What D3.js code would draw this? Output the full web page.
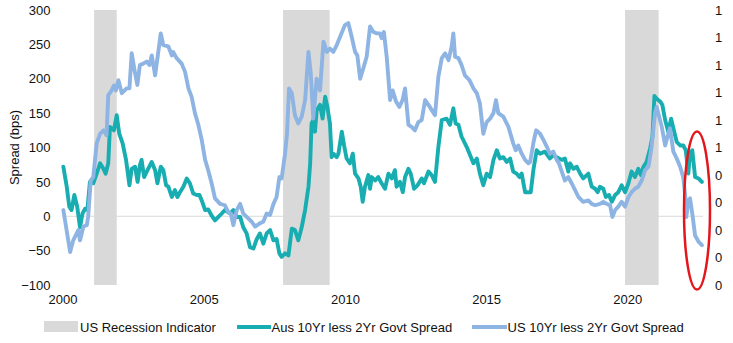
<!DOCTYPE html>
<html>
<head>
<meta charset="utf-8">
<script src="https://cdn.jsdelivr.net/npm/d3@7"></script>
<style>
  html, body { margin: 0; padding: 0; background: #fff; }
  svg { display: block; font-family: "Liberation Sans", Arial, sans-serif; }
</style>
</head>
<body>
<svg id="chart" width="733" height="343"></svg>
<script>
// Axis ticks
const yearTicks = [2000, 2005, 2010, 2015, 2020];
const yearLabels = ["2000", "2005", "2010", "2015", "2020"];
const spreadTicks = [-100, -50, 0, 50, 100, 150, 200, 250, 300];
const indicatorTicks = [0, 0.1, 0.2, 0.3, 0.4, 0.5, 0.6, 0.7, 0.8, 0.9, 1];

// US recession periods (decimal years) on the secondary 0-1 axis
const recessionStart = [2001.12, 2007.81, 2019.92];
const recessionEnd   = [2001.92, 2009.46, 2021.11];
const recessionValue = [1, 1, 1];

// Aus 10Yr less 2Yr govt spread (bps)
const ausTime = [
  2000.03, 2000.15, 2000.24, 2000.32, 2000.42, 2000.52, 2000.62, 2000.71, 2000.80, 2000.88,
  2000.97, 2001.09, 2001.21, 2001.33, 2001.45, 2001.53, 2001.62, 2001.68, 2001.82, 2001.92,
  2002.01, 2002.13, 2002.25, 2002.37, 2002.45, 2002.57, 2002.66, 2002.74, 2002.80, 2002.89,
  2003.01, 2003.16, 2003.28, 2003.36, 2003.48, 2003.57, 2003.67, 2003.75, 2003.87, 2003.98,
  2004.07, 2004.16, 2004.28, 2004.40, 2004.51, 2004.63, 2004.75, 2004.85, 2004.93, 2005.05,
  2005.16, 2005.28, 2005.40, 2005.52, 2005.64, 2005.75, 2005.93, 2006.05, 2006.17, 2006.29,
  2006.40, 2006.52, 2006.64, 2006.76, 2006.88, 2006.99, 2007.11, 2007.23, 2007.35, 2007.47,
  2007.58, 2007.68, 2007.76, 2007.88, 2008.00, 2008.12, 2008.23, 2008.35, 2008.47, 2008.59,
  2008.71, 2008.77, 2008.82, 2008.88, 2008.94, 2009.00, 2009.12, 2009.21, 2009.30, 2009.38,
  2009.47, 2009.53, 2009.59, 2009.71, 2009.77, 2009.89, 2009.97, 2010.06, 2010.18, 2010.28,
  2010.36, 2010.48, 2010.56, 2010.63, 2010.71, 2010.83, 2010.89, 2010.95, 2011.07, 2011.18,
  2011.30, 2011.42, 2011.54, 2011.66, 2011.77, 2011.83, 2011.95, 2012.05, 2012.13, 2012.25,
  2012.33, 2012.45, 2012.57, 2012.72, 2012.80, 2012.96, 2013.07, 2013.19, 2013.31, 2013.43,
  2013.60, 2013.72, 2013.84, 2013.92, 2014.02, 2014.13, 2014.31, 2014.43, 2014.55, 2014.67,
  2014.78, 2014.90, 2015.02, 2015.14, 2015.26, 2015.38, 2015.49, 2015.61, 2015.73, 2015.85,
  2015.96, 2016.08, 2016.18, 2016.26, 2016.38, 2016.50, 2016.58, 2016.68, 2016.79, 2016.91,
  2017.08, 2017.26, 2017.38, 2017.50, 2017.68, 2017.79, 2017.91, 2017.97, 2018.09, 2018.21,
  2018.33, 2018.44, 2018.62, 2018.74, 2018.86, 2018.95, 2019.03, 2019.15, 2019.24, 2019.35,
  2019.45, 2019.57, 2019.68, 2019.80, 2019.92, 2020.04, 2020.15, 2020.27, 2020.39, 2020.48,
  2020.57, 2020.68, 2020.81, 2020.89, 2020.96, 2021.04, 2021.16, 2021.24, 2021.34, 2021.45,
  2021.55, 2021.63, 2021.75, 2021.87, 2021.98, 2022.07, 2022.16, 2022.22, 2022.30, 2022.40,
  2022.52, 2022.64
];
const ausSpread = [
  72, 43, 14, 9, 31, 14, -16, 4, 11, 9,
  50, 48, 62, 77, 69, 62, 77, 130, 125, 147,
  120, 106, 82, 45, 69, 72, 50, 74, 82, 57,
  67, 79, 67, 48, 72, 67, 45, 43, 28, 38,
  28, 35, 43, 55, 48, 33, 31, 31, 23, 9,
  10, 1, -6, -1, 4, 9, 4, 9, -1, -1,
  -16, -25, -45, -47, -33, -25, -40, -25, -20, -35,
  -33, -54, -59, -54, -57, -18, -20, -35, -16, 9,
  43, 77, 135, 140, 123, 154, 162, 142, 174, 159,
  135, 86, 91, 86, 91, 123, 103, 84, 77, 91,
  62, 55, 43, 21, 43, 60, 40, 57, 52, 57,
  48, 40, 62, 55, 67, 43, 50, 35, 57, 69,
  62, 40, 45, 55, 48, 65, 60, 50, 101, 140,
  142, 133, 157, 135, 133, 116, 101, 89, 77, 84,
  62, 45, 62, 57, 82, 96, 84, 86, 79, 84,
  65, 62, 57, 62, 35, 35, 35, 69, 96, 91,
  94, 84, 89, 86, 82, 84, 65, 77, 69, 72,
  62, 55, 62, 43, 40, 35, 43, 40, 28, 31,
  21, 31, 35, 45, 35, 48, 65, 57, 69, 60,
  72, 79, 99, 116, 175, 171, 167, 162, 140, 123,
  142, 128, 108, 103, 103, 96, 62, 91, 96, 57,
  55, 50
];

// US 10Yr less 2Yr govt spread (bps)
const usTime = [
  2000.03, 2000.27, 2000.38, 2000.56, 2000.62, 2000.74, 2000.86, 2000.91, 2001.00, 2001.09,
  2001.21, 2001.33, 2001.45, 2001.56, 2001.62, 2001.74, 2001.82, 2001.89, 2001.98, 2002.10,
  2002.27, 2002.37, 2002.45, 2002.57, 2002.65, 2002.74, 2002.86, 2002.98, 2003.08, 2003.16,
  2003.28, 2003.48, 2003.57, 2003.75, 2003.87, 2003.92, 2004.04, 2004.22, 2004.34, 2004.46,
  2004.57, 2004.69, 2004.81, 2004.93, 2005.05, 2005.16, 2005.28, 2005.40, 2005.58, 2005.75,
  2005.87, 2005.96, 2006.05, 2006.17, 2006.29, 2006.40, 2006.52, 2006.70, 2006.82, 2007.00,
  2007.11, 2007.23, 2007.35, 2007.47, 2007.58, 2007.68, 2007.76, 2007.88, 2007.95, 2008.02,
  2008.12, 2008.23, 2008.35, 2008.47, 2008.59, 2008.71, 2008.79, 2008.88, 2009.00, 2009.12,
  2009.24, 2009.36, 2009.47, 2009.59, 2009.71, 2009.83, 2010.00, 2010.12, 2010.24, 2010.36,
  2010.44, 2010.54, 2010.65, 2010.77, 2010.89, 2011.01, 2011.13, 2011.24, 2011.30, 2011.38,
  2011.48, 2011.60, 2011.69, 2011.81, 2011.93, 2012.04, 2012.13, 2012.25, 2012.36, 2012.48,
  2012.60, 2012.72, 2012.84, 2012.96, 2013.08, 2013.19, 2013.31, 2013.43, 2013.55, 2013.67,
  2013.78, 2013.84, 2013.90, 2014.02, 2014.13, 2014.25, 2014.41, 2014.55, 2014.67, 2014.78,
  2014.90, 2015.02, 2015.14, 2015.26, 2015.35, 2015.43, 2015.61, 2015.79, 2015.96, 2016.05,
  2016.14, 2016.26, 2016.38, 2016.50, 2016.56, 2016.68, 2016.77, 2016.91, 2017.03, 2017.15,
  2017.26, 2017.38, 2017.50, 2017.58, 2017.68, 2017.79, 2017.91, 2018.03, 2018.15, 2018.27,
  2018.44, 2018.62, 2018.74, 2018.86, 2019.03, 2019.15, 2019.27, 2019.39, 2019.47, 2019.57,
  2019.68, 2019.80, 2019.92, 2020.04, 2020.15, 2020.27, 2020.39, 2020.51, 2020.63, 2020.75,
  2020.86, 2020.98, 2021.04, 2021.22, 2021.34, 2021.45, 2021.51, 2021.63, 2021.75, 2021.87,
  2021.98, 2022.05, 2022.09, 2022.16, 2022.22, 2022.30, 2022.40, 2022.52, 2022.64
];
const usSpread = [
  9, -52, -35, -20, -35, -15, -13, 0, 52, 57,
  106, 120, 125, 118, 176, 183, 190, 183, 198, 179,
  186, 186, 237, 208, 191, 220, 222, 225, 220, 234,
  205, 266, 249, 247, 234, 239, 230, 222, 210, 186,
  174, 150, 133, 111, 82, 67, 48, 26, 18, 16,
  6, 4, -13, 9, 18, 4, -1, -8, -15, -10,
  -8, 4, 2, 18, 28, 57, 55, 91, 120, 186,
  179, 147, 135, 145, 169, 239, 208, 142, 200, 183,
  254, 239, 244, 239, 249, 261, 278, 281, 261, 239,
  234, 200, 215, 232, 276, 268, 266, 266, 259, 268,
  232, 169, 183, 167, 159, 169, 186, 133, 130, 125,
  137, 140, 169, 162, 154, 147, 203, 230, 237, 227,
  247, 266, 232, 230, 220, 205, 198, 186, 179, 164,
  120, 137, 142, 150, 169, 150, 145, 130, 106, 96,
  103, 91, 82, 77, 79, 108, 125, 120, 111, 101,
  91, 94, 82, 77, 65, 52, 57, 48, 38, 28,
  21, 23, 18, 16, 18, 21, 18, 16, -1, 9,
  14, 21, 14, 28, 35, 40, 43, 52, 67, 72,
  101, 150, 159, 130, 103, 120, 128, 94, 84, 72,
  57, 30, -1, 23, 26, 4, -28, -37, -42
];

const colors = {
  aus: "#17adb1",
  us: "#8eb4e3",
  recession: "#d9d9d9",
  zero: "#d9d9d9",
  text: "#111111",
  highlight: "#e3161b"
};

const plot = { left: 62.5, right: 703, top: 10, bottom: 285 };

const x = d3.scaleLinear().domain([2000, 2022.68]).range([plot.left, plot.right]);
const y = d3.scaleLinear().domain([-100, 300]).range([plot.bottom, plot.top]);
const y2 = d3.scaleLinear().domain([0, 1]).range([plot.bottom, plot.top]);

const svg = d3.select("#chart");

// zero reference line
svg.append("line")
  .attr("x1", plot.left).attr("x2", plot.right)
  .attr("y1", y(0)).attr("y2", y(0))
  .attr("stroke", colors.zero).attr("stroke-width", 1);

// recession shading on the secondary axis
const recessions = recessionStart.map((s, i) => ({ s, e: recessionEnd[i], v: recessionValue[i] }));
svg.append("g").selectAll("rect").data(recessions).join("rect")
  .attr("x", d => x(d.s))
  .attr("width", d => x(d.e) - x(d.s))
  .attr("y", d => y2(d.v))
  .attr("height", d => y2(0) - y2(d.v))
  .attr("fill", colors.recession);

// spread lines
const line = d3.line().x(d => x(d[0])).y(d => y(d[1]));
const ausData = ausTime.map((t, i) => [t, ausSpread[i]]);
const usData = usTime.map((t, i) => [t, usSpread[i]]);

svg.append("path").datum(ausData)
  .attr("d", line).attr("fill", "none")
  .attr("stroke", colors.aus).attr("stroke-width", 3.9)
  .attr("stroke-linejoin", "round").attr("stroke-linecap", "round");

svg.append("path").datum(usData)
  .attr("d", line).attr("fill", "none")
  .attr("stroke", colors.us).attr("stroke-width", 3.9)
  .attr("stroke-linejoin", "round").attr("stroke-linecap", "round");

// axes
function styleAxis(g) {
  g.select(".domain").remove();
  g.selectAll(".tick line").remove();
  g.selectAll("text")
    .attr("font-family", '"Liberation Sans", Arial, sans-serif')
    .attr("font-size", 13)
    .attr("fill", colors.text);
}

svg.append("g")
  .attr("transform", `translate(${plot.left},0)`)
  .call(d3.axisLeft(y).tickValues(spreadTicks).tickSize(0).tickPadding(12).tickFormat(d3.format("d")))
  .call(styleAxis);

svg.append("g")
  .attr("transform", `translate(${plot.right},0)`)
  .call(d3.axisRight(y2).tickValues(indicatorTicks).tickSize(0).tickPadding(12)
    .tickFormat(d => String(Math.round(d))))
  .call(styleAxis);

svg.append("g")
  .attr("transform", `translate(0,${plot.bottom})`)
  .call(d3.axisBottom(x).tickValues(yearTicks).tickSize(0).tickPadding(10)
    .tickFormat((d, i) => yearLabels[i]))
  .call(styleAxis);

// y axis title
svg.append("text")
  .attr("transform", `translate(19,${(plot.top + plot.bottom) / 2}) rotate(-90)`)
  .attr("text-anchor", "middle")
  .attr("font-size", 13)
  .attr("fill", colors.text)
  .text("Spread (bps)");

// highlight ring around the latest readings
svg.append("ellipse")
  .attr("cx", 697).attr("cy", 210.5)
  .attr("rx", 13).attr("ry", 79)
  .attr("fill", "none")
  .attr("stroke", colors.highlight)
  .attr("stroke-width", 2.5);

// legend
const legendY = 327;
const legend = svg.append("g");
legend.append("rect")
  .attr("x", 44).attr("y", legendY - 6).attr("width", 34).attr("height", 11)
  .attr("fill", colors.recession);
legend.append("text").attr("x", 80).attr("y", legendY).attr("dy", "0.35em")
  .attr("font-size", 13).attr("fill", colors.text).text("US Recession Indicator");

legend.append("line")
  .attr("x1", 237).attr("x2", 271).attr("y1", legendY).attr("y2", legendY)
  .attr("stroke", colors.aus).attr("stroke-width", 4);
legend.append("text").attr("x", 271.5).attr("y", legendY).attr("dy", "0.35em")
  .attr("font-size", 13).attr("fill", colors.text).text("Aus 10Yr less 2Yr Govt Spread");

legend.append("line")
  .attr("x1", 472).attr("x2", 507).attr("y1", legendY).attr("y2", legendY)
  .attr("stroke", colors.us).attr("stroke-width", 4);
legend.append("text").attr("x", 507.5).attr("y", legendY).attr("dy", "0.35em")
  .attr("font-size", 13).attr("fill", colors.text).text("US 10Yr less 2Yr Govt Spread");
</script>
</body>
</html>
